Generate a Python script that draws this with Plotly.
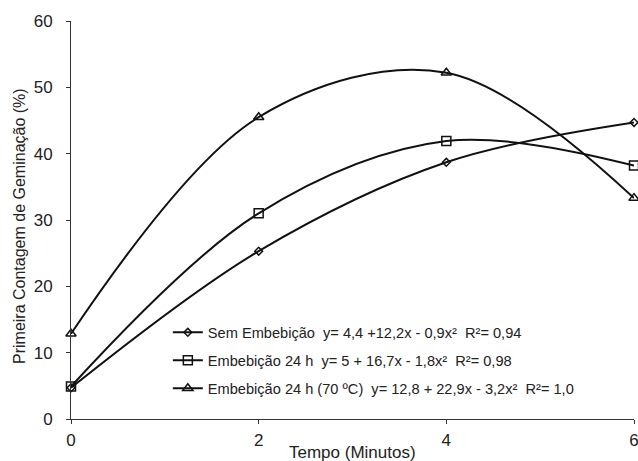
import plotly.graph_objects as go

tempo = [0, 2, 4, 6]
sem_embebicao = [4.7, 25.3, 38.7, 44.7]
embebicao_24h = [4.9, 31.0, 41.9, 38.2]
embebicao_24h_70 = [12.85, 45.5, 52.2, 33.3]

S = "\u00a0"
nomes = [
    f"Sem Embebição {S}y= 4,4 +12,2x - 0,9x² {S}R²= 0,94",
    f"Embebição 24 h {S}y= 5 + 16,7x - 1,8x² {S}R²= 0,98",
    f"Embebição 24 h (70 ºC) {S}y= 12,8 + 22,9x - 3,2x² {S}R²= 1,0",
]
simbolos = ["diamond-open", "square-open", "triangle-up-open"]
tamanhos = [6, 9, 9]
series = [sem_embebicao, embebicao_24h, embebicao_24h_70]

fig = go.Figure()
for i, (nome, ys, sym, sz) in enumerate(zip(nomes, series, simbolos, tamanhos)):
    fig.add_trace(go.Scatter(
        x=tempo, y=ys, name=nome, mode="lines+markers", legendgroup=f"g{i}",
        cliponaxis=False,
        line=dict(color="#111111", width=2, shape="spline", smoothing=1.0),
        marker=dict(symbol=sym, size=sz, color="#111111",
                    line=dict(color="#111111", width=1.5)),
    ))

fig.update_layout(
    width=638, height=461,
    margin=dict(l=71, r=4, t=21, b=42, autoexpand=False),
    paper_bgcolor="white", plot_bgcolor="white",
    font=dict(family="Liberation Sans, Arial, sans-serif", color="#222222", size=17),
    showlegend=True,
    legend=dict(x=0.172, y=0.258, xanchor="left", yanchor="top",
                bgcolor="rgba(255,255,255,0)", font=dict(size=14.6, color="#222222"),
                tracegroupgap=6, itemsizing="trace"),
    xaxis=dict(
        range=[0, 6], tickvals=[0, 2, 4, 6], showgrid=False, zeroline=False,
        showline=True, linecolor="#333333", linewidth=1, automargin=False,
        ticks="outside", ticklen=4, tickcolor="#333333", tickfont=dict(size=17),
        ticklabelstandoff=2, ticklabeloverflow="allow",
    ),
    yaxis=dict(
        range=[0, 60], tickvals=[0, 10, 20, 30, 40, 50, 60], showgrid=False, zeroline=False,
        showline=True, linecolor="#333333", linewidth=1, automargin=False,
        ticks="outside", ticklen=4, tickcolor="#333333", tickfont=dict(size=17),
        ticklabelstandoff=10,
    ),
    annotations=[
        dict(text="Tempo (Minutos)", xref="paper", yref="paper", x=0.5, y=0,
             xanchor="center", yanchor="middle", yshift=-33, showarrow=False,
             font=dict(size=17, color="#222222")),
        dict(text="Primeira Contagem de Geminação (%)", xref="paper", yref="paper",
             x=0, y=0.5, xanchor="center", yanchor="middle", xshift=-52, yshift=-6,
             textangle=-90, showarrow=False, font=dict(size=16, color="#222222")),
    ],
)

fig.write_html(
    "out.html",
    config={"displayModeBar": False},
    post_script="document.body.style.margin='0';document.body.style.overflow='hidden';",
)
